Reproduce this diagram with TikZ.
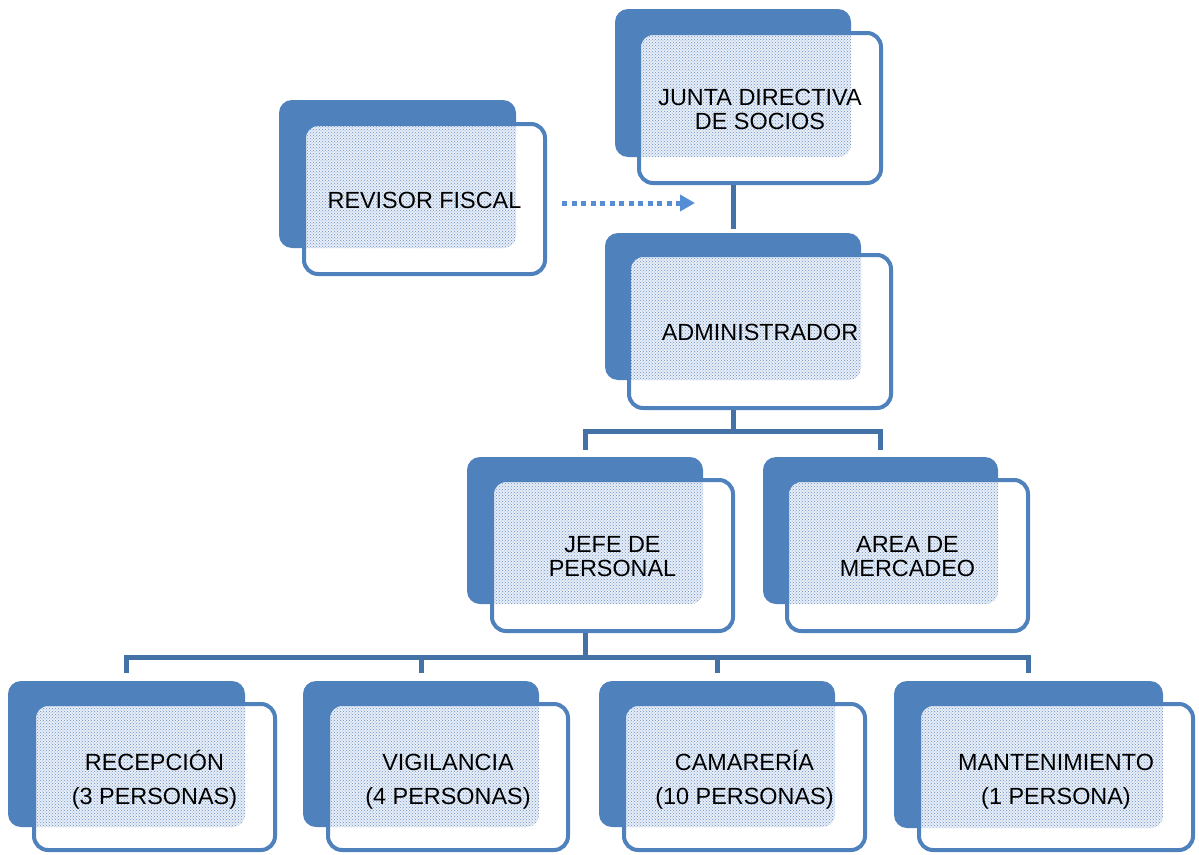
\documentclass[tikz,border=0pt]{standalone}
\usepackage{fontspec}
\setmainfont{Liberation Sans}
\usetikzlibrary{fit,patterns,arrows.meta}
\definecolor{backblue}{RGB}{79,129,189}
\definecolor{connblue}{RGB}{68,114,166}
\definecolor{arrblue}{RGB}{85,142,213}
\definecolor{dotbg}{RGB}{232,238,246}
\definecolor{dotcol}{RGB}{105,145,200}
\newcommand\boxfont{\fontsize{23.4}{24}\selectfont}
\tikzset{
  backbox/.style={fill=backblue, draw=none, rounded corners=13pt, inner sep=0pt},
  dotfill/.style={preaction={fill=dotbg}, pattern=crosshatch dots, pattern color=dotcol},
  frontbox/.style={draw=backblue, line width=4pt, fill=white, rounded corners=14pt,
    inner sep=0pt,
    path picture={\fill[dotfill, rounded corners=13pt] (#1.north west) rectangle (#1.south east);}},
  boxtext/.style={align=center, font=\boxfont, text=black, inner sep=0pt},
  conn/.style={draw=connblue, line width=5pt},
  dotarrow/.style={draw=arrblue, line width=5pt, dash pattern=on 5pt off 4.5pt,
    -{Triangle[length=15pt,width=16pt]}}
}
\newcommand\orgunit[5]{%
  \node[backbox, fit={#2}] (#1b) {};
  \node[frontbox=#1b, fit={#3}] (#1) {};
  \node[boxtext] (#1t) at ([yshift=#4]#1.center) {#5};
}
\begin{document}
\begin{tikzpicture}[x=1pt,y=-1pt]
\useasboundingbox[fill=white] (0,0) rectangle (1199,854);
% units
\orgunit{rev}{(279,100) (516,248)}{(304,124) (545,274)}{-1pt}{REVISOR FISCAL}
\orgunit{jun}{(615,9) (851,157)}{(639,33) (881,183)}{-1pt}{JUNTA DIRECTIVA\\DE SOCIOS}
\orgunit{adm}{(605,233) (861,380)}{(629,255) (891,408)}{-1pt}{ADMINISTRADOR}
\orgunit{jef}{(467,457) (703,604)}{(492,480) (733,631)}{-1pt}{JEFE DE\\PERSONAL}
\orgunit{are}{(763,457) (998,604)}{(787,480) (1028,631)}{-1pt}{AREA DE\\MERCADEO}
\orgunit{rec}{(8,681) (245,827)}{(34,704) (275,850)}{-3pt}{RECEPCIÓN\\[10pt](3 PERSONAS)}
\orgunit{vig}{(303,681) (539,827)}{(328,704) (568,850)}{-5pt}{VIGILANCIA\\[10pt](4 PERSONAS)}
\orgunit{cam}{(599,681) (835,827)}{(624,704) (865,850)}{-3pt}{CAMARERÍA\\[10pt](10 PERSONAS)}
\orgunit{man}{(894,681) (1163,828)}{(919,704) (1193,850)}{-5pt}{MANTENIMIENTO\\[10pt](1 PERSONA)}
% connectors
\draw[conn] (jun.south -| junb.center) -- ([yshift=4pt]admb.north);
\coordinate (busA) at (733,431);
\draw[conn] (adm.south -| admb.center) -- (busA);
\draw[conn] ([yshift=7pt]jefb.north) |- (busA) -| ([yshift=7pt]areb.north);
\coordinate (busB) at (585,657);
\draw[conn] (jef.south -| jefb.center) -- (busB);
\draw[conn] ([yshift=8pt]recb.north) |- (busB) -| ([yshift=8pt]manb.north);
\draw[conn] (vigb.north |- busB) -- ([yshift=8pt]vigb.north);
\draw[conn] (camb.north |- busB) -- ([yshift=8pt]camb.north);
% dotted arrow
\coordinate (arrS) at (562,203);
\coordinate (arrE) at (695,203);
\draw[dotarrow] (arrS) -- (arrE);
\end{tikzpicture}
\end{document}
